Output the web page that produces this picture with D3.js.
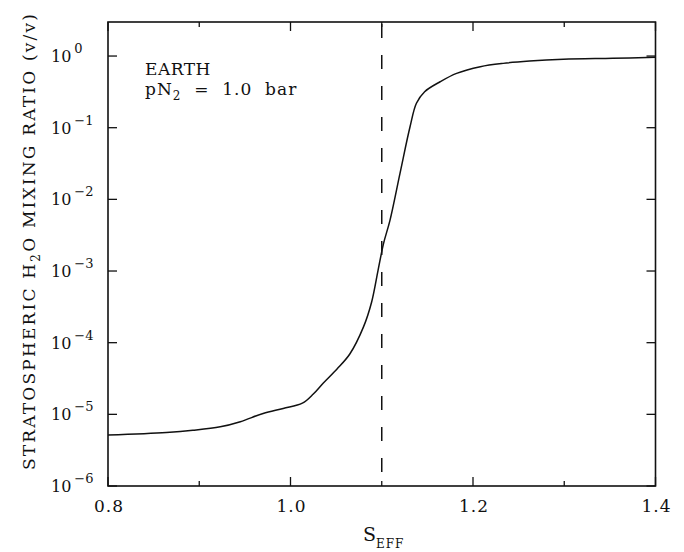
<!DOCTYPE html>
<html>
<head>
<meta charset="utf-8">
<script src="https://cdn.jsdelivr.net/npm/d3@7"></script>
<style>
  body { margin: 0; background: #fff; }
  text { font-family: "DejaVu Serif", "Liberation Serif", serif; fill: #111; }
</style>
</head>
<body>
<div id="chart"></div>
<script>
// S_EFF values and stratospheric H2O mixing ratio
const s_eff = [0.800, 0.864, 0.893, 0.923, 0.945, 0.970, 0.992, 1.013, 1.025, 1.036,
               1.051, 1.065, 1.080, 1.089, 1.096, 1.102, 1.109, 1.120, 1.131, 1.138,
               1.147, 1.164, 1.182, 1.208, 1.233, 1.262, 1.299, 1.353, 1.400];
const h2o = [5.15e-6, 5.6e-6, 6.0e-6, 6.7e-6, 7.9e-6, 1.03e-5, 1.21e-5, 1.43e-5, 1.92e-5, 2.74e-5,
             4.3e-5, 6.95e-5, 1.66e-4, 3.73e-4, 1.03e-3, 2.43e-3, 5.1e-3, 2.31e-2, 0.103, 0.219,
             0.318, 0.438, 0.573, 0.71, 0.79, 0.85, 0.90, 0.93, 0.96];
const x_major = [0.8, 1.0, 1.2, 1.4];
const x_minor = [0.9, 1.1, 1.3];
const y_exps = [0, -1, -2, -3, -4, -5, -6];
const s_crit = 1.1; // dashed line

const margin = {top: 22, right: 28.5, bottom: 66, left: 108};
const width = 684 - margin.left - margin.right;
const height = 552 - margin.top - margin.bottom;

var xScale = d3.scaleLinear().domain([0.8, 1.4]).range([0, width]);
var yScale = d3.scaleLog().domain([1e-6, Math.pow(10, 0.475)]).range([height, 0]);

var svg = d3.select("#chart").append("svg")
    .attr("width", 684)
    .attr("height", 552);

var g = svg.append("g")
    .attr("transform", "translate(" + margin.left + "," + margin.top + ")");

// Frame
g.append("rect")
    .attr("width", width).attr("height", height)
    .attr("fill", "none").attr("stroke", "#111").attr("stroke-width", 1.6);

// X ticks, inward on bottom and top
function xTicks(vals, len) {
    vals.forEach(function(v) {
        g.append("line").attr("x1", xScale(v)).attr("x2", xScale(v))
            .attr("y1", height).attr("y2", height - len)
            .attr("stroke", "#111").attr("stroke-width", 1.3);
        g.append("line").attr("x1", xScale(v)).attr("x2", xScale(v))
            .attr("y1", 0).attr("y2", len)
            .attr("stroke", "#111").attr("stroke-width", 1.3);
    });
}
xTicks(x_major, 9);
xTicks(x_minor, 5);

g.selectAll(".xlab").data(x_major).enter().append("text")
    .attr("x", d => xScale(d) + 1)
    .attr("y", height + 26)
    .attr("text-anchor", "middle")
    .style("font-size", "17px")
    .style("letter-spacing", "1px")
    .text(d => d.toFixed(1));

// Y ticks, inward on left and right
y_exps.forEach(function(e) {
    var y = yScale(Math.pow(10, e));
    g.append("line").attr("x1", 0).attr("x2", 9).attr("y1", y).attr("y2", y)
        .attr("stroke", "#111").attr("stroke-width", 1.3);
    g.append("line").attr("x1", width).attr("x2", width - 9).attr("y1", y).attr("y2", y)
        .attr("stroke", "#111").attr("stroke-width", 1.3);
    var t = svg.append("text")
        .attr("x", 51)
        .attr("y", margin.top + y + 6)
        .style("font-size", "16px");
    t.append("tspan").text("10");
    t.append("tspan").attr("dx", 3).attr("dy", -9).style("font-size", "13px")
        .text(e === 0 ? "0" : "\u2212" + (-e));
});

// Dashed line at S_EFF = 1.1
g.append("line")
    .attr("x1", xScale(s_crit)).attr("x2", xScale(s_crit))
    .attr("y1", 0).attr("y2", height)
    .attr("stroke", "#111").attr("stroke-width", 1.5)
    .attr("stroke-dasharray", "14,17")
    .attr("stroke-dashoffset", 29);

// Curve
var line = d3.line()
    .x((d, i) => xScale(s_eff[i]))
    .y(d => yScale(d))
    .curve(d3.curveCatmullRom.alpha(0.5));

g.append("path")
    .datum(h2o)
    .attr("fill", "none")
    .attr("stroke", "#111")
    .attr("stroke-width", 1.5)
    .attr("d", line);

// Annotation
var ann = g.append("text").attr("x", 37).attr("y", 53)
    .style("font-size", "17px").style("letter-spacing", "0.5px");
ann.text("EARTH");
var ann2 = g.append("text").attr("x", 37).attr("y", 73)
    .style("font-size", "17px").style("letter-spacing", "1px")
    .style("white-space", "pre");
ann2.append("tspan").text("pN");
ann2.append("tspan").attr("dy", 5).style("font-size", "12px").text("2");
ann2.append("tspan").attr("dy", -5).text("  =  1.0  bar");

// X axis title
var xt = svg.append("text").attr("x", 363).attr("y", 541)
    .style("font-size", "19px");
xt.append("tspan").text("S");
xt.append("tspan").attr("dy", 7).style("font-size", "12px").style("letter-spacing", "1px").text("EFF");

// Y axis title
var yt = svg.append("text")
    .attr("transform", "translate(35," + 241 + ") rotate(-90)")
    .attr("text-anchor", "middle")
    .style("font-size", "17px")
    .style("letter-spacing", "2.2px");
yt.append("tspan").text("STRATOSPHERIC H");
yt.append("tspan").attr("dy", 5).style("font-size", "12px").text("2");
yt.append("tspan").attr("dy", -5).text("O MIXING RATIO (v/v)");
</script>
</body>
</html>
